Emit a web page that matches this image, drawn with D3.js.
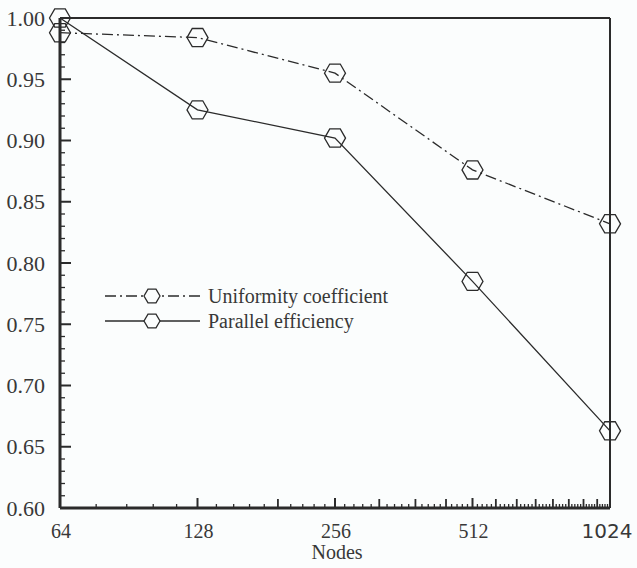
<!DOCTYPE html>
<html>
<head>
<meta charset="utf-8">
<script src="https://cdn.jsdelivr.net/npm/d3@7"></script>
<style>
  body { margin: 0; background: #fbfdfd; }
  svg { display: block; }
</style>
</head>
<body>
<div id="chart"></div>
<script>
const nodes = [64, 128, 256, 512, 1024];
const uniformity = [0.988, 0.984, 0.955, 0.876, 0.832];
const efficiency = [1.000, 0.925, 0.902, 0.785, 0.663];
const yTicks = [0.60, 0.65, 0.70, 0.75, 0.80, 0.85, 0.90, 0.95, 1.00];
const seriesNames = ["Uniformity coefficient", "Parallel efficiency"];

const W = 637, H = 568;
const margin = { top: 18, right: 27, bottom: 60, left: 60 },
    width = W - margin.left - margin.right,
    height = H - margin.top - margin.bottom;

const ink = "#2b2b2b";
const textInk = "#383838";
const serif = "'Liberation Serif', 'DejaVu Serif', 'Times New Roman', Times, serif";

const svgContainer = d3.select("#chart").append("svg")
    .attr("width", W)
    .attr("height", H);

const svg = svgContainer.append("g")
    .attr("transform", `translate(${margin.left},${margin.top})`);

const x = d3.scaleLog().base(2)
    .domain([64, 1024])
    .range([0, width]);

const y = d3.scaleLinear()
    .domain([0.60, 1.00])
    .range([height, 0]);

// x ticks: minor every 12.8, medium every 64
const minorX = d3.range(64, 1024.01, 12.8).filter(v => Math.abs(v / 64 - Math.round(v / 64)) > 1e-6);
const mediumX = d3.range(64, 1024.01, 64).filter(v => !nodes.includes(v));

svg.append("g").selectAll("line")
    .data(minorX)
    .enter().append("line")
    .attr("x1", d => x(d)).attr("x2", d => x(d))
    .attr("y1", height).attr("y2", height - 4)
    .attr("stroke", ink).attr("stroke-width", 1.3);

svg.append("g").selectAll("line")
    .data(mediumX)
    .enter().append("line")
    .attr("x1", d => x(d)).attr("x2", d => x(d))
    .attr("y1", height).attr("y2", height - 9)
    .attr("stroke", ink).attr("stroke-width", 1.8);

svg.append("g").selectAll("line")
    .data(nodes)
    .enter().append("line")
    .attr("x1", d => x(d)).attr("x2", d => x(d))
    .attr("y1", height).attr("y2", height - 10)
    .attr("stroke", ink).attr("stroke-width", 2);

svg.append("g").selectAll("text")
    .data(nodes)
    .enter().append("text")
    .attr("x", d => d === 1024 ? x(d) - 3 : x(d) + 1)
    .attr("y", height + 30)
    .attr("text-anchor", "middle")
    .style("font-family", d => d === 1024 ? "'DejaVu Sans', sans-serif" : serif)
    .style("font-size", "20px")
    .style("fill", textInk)
    .text(d => d);

svg.append("text")
    .attr("x", width / 2 + 2)
    .attr("y", height + 51)
    .attr("text-anchor", "middle")
    .style("font-family", serif)
    .style("font-size", "20px")
    .style("fill", textInk)
    .text("Nodes");

// y ticks: minor every 0.01
const minorY = d3.range(0.60, 1.0001, 0.01)
    .filter(v => Math.abs(v * 20 - Math.round(v * 20)) > 1e-6);

svg.append("g").selectAll("line")
    .data(minorY)
    .enter().append("line")
    .attr("x1", 0).attr("x2", 5)
    .attr("y1", d => y(d)).attr("y2", d => y(d))
    .attr("stroke", ink).attr("stroke-width", 1.3);

svg.append("g").selectAll("line")
    .data(yTicks)
    .enter().append("line")
    .attr("x1", 0).attr("x2", 11)
    .attr("y1", d => y(d)).attr("y2", d => y(d))
    .attr("stroke", ink).attr("stroke-width", 2);

svg.append("g").selectAll("text")
    .data(yTicks)
    .enter().append("text")
    .attr("x", -15)
    .attr("y", d => y(d))
    .attr("dy", "0.35em")
    .attr("text-anchor", "end")
    .style("font-family", serif)
    .style("font-size", "22px")
    .style("fill", textInk)
    .text(d => d.toFixed(2));

// frame
svg.append("line").attr("x1", 0).attr("x2", width).attr("y1", 0).attr("y2", 0)
    .attr("stroke", ink).attr("stroke-width", 2.2);
svg.append("line").attr("x1", width).attr("x2", width).attr("y1", 0).attr("y2", height)
    .attr("stroke", ink).attr("stroke-width", 2);
svg.append("line").attr("x1", 0).attr("x2", width).attr("y1", height).attr("y2", height)
    .attr("stroke", ink).attr("stroke-width", 3);
svg.append("line").attr("x1", 0).attr("x2", 0).attr("y1", 0).attr("y2", height)
    .attr("stroke", ink).attr("stroke-width", 3);

// hexagon marker, flat top
const hexPath = r => {
    const pts = d3.range(6).map(i => {
        const a = Math.PI / 3 * i;
        return [r * Math.cos(a), r * Math.sin(a)];
    });
    return "M" + pts.map(p => p.join(",")).join("L") + "Z";
};

const series = [
    { name: seriesNames[0], values: uniformity, dash: "11,4,2,4" },
    { name: seriesNames[1], values: efficiency, dash: null }
];

const line = d3.line()
    .x(d => x(d[0]))
    .y(d => y(d[1]));

series.forEach(s => {
    const pts = nodes.map((n, i) => [n, s.values[i]]);
    svg.append("path")
        .datum(pts)
        .attr("fill", "none")
        .attr("stroke", ink)
        .attr("stroke-width", 1.3)
        .attr("stroke-dasharray", s.dash)
        .attr("d", line);

    svg.append("g").selectAll("path")
        .data(pts)
        .enter().append("path")
        .attr("transform", d => `translate(${x(d[0])},${y(d[1])})`)
        .attr("d", hexPath(10.5))
        .attr("fill", "none")
        .attr("stroke", ink)
        .attr("stroke-width", 1.3);
});

// legend
const legend = svg.append("g")
    .attr("transform", "translate(45,278)");

series.forEach((s, i) => {
    const g = legend.append("g").attr("transform", `translate(0,${i * 25})`);
    g.append("line")
        .attr("x1", 0).attr("x2", 95)
        .attr("y1", 0).attr("y2", 0)
        .attr("stroke", ink)
        .attr("stroke-width", 1.3)
        .attr("stroke-dasharray", s.dash);
    g.append("path")
        .attr("transform", "translate(47,0)")
        .attr("d", hexPath(8))
        .attr("fill", "#fbfdfd")
        .attr("stroke", ink)
        .attr("stroke-width", 1.3);
    g.append("text")
        .attr("x", 103)
        .attr("y", 0)
        .attr("dy", "0.35em")
        .style("font-family", serif)
        .style("font-size", "20px")
        .style("fill", textInk)
        .text(s.name);
});
</script>
</body>
</html>
